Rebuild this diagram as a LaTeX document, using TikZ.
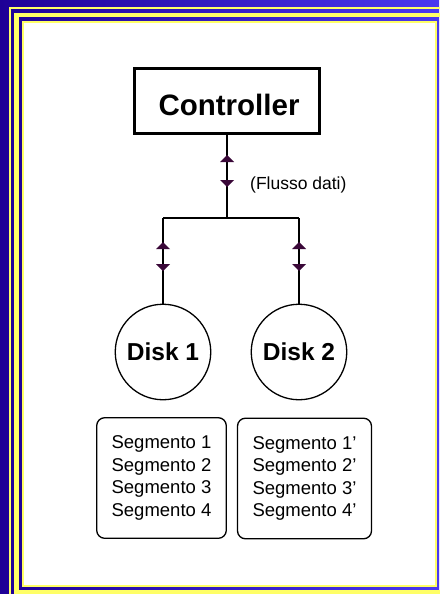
\documentclass[tikz,border=0pt]{standalone}
\usepackage{fontspec}
\setmainfont{Liberation Sans}
\usetikzlibrary{decorations.markings}
\definecolor{bgblue}{HTML}{1E0096}
\definecolor{bgmid}{HTML}{2010B8}
\definecolor{bgblue2}{HTML}{4A38F0}
\definecolor{frameyellow}{HTML}{FFFF66}
\definecolor{arrowpurple}{HTML}{3A0838}
\tikzset{
  ctrlbox/.style={draw, line width=2.7, minimum width=185.5, minimum height=65, inner sep=0, outer sep=0, text height=29, text depth=0, font=\fontsize{29.5}{31}\selectfont\bfseries},
  disk/.style={draw, circle, line width=1.3, minimum size=95.5, inner sep=0, outer sep=0, font=\fontsize{24.5}{26}\selectfont\bfseries},
  segbox/.style={draw, rounded corners=8, line width=1.3, minimum width=129.6, minimum height=120.6, align=left, inner sep=0, font=\fontsize{18.5}{22.5}\selectfont},
  link/.style={line width=1.5},
  bidir/.style 2 args={link, postaction={decorate}, decoration={markings,
      mark=at position #1 with {\fill[arrowpurple] (0,0) -- (7,7) -- (7,-7) -- cycle;},
      mark=at position #2 with {\fill[arrowpurple] (0,0) -- (-7,7) -- (-7,-7) -- cycle;}}},
  note/.style={font=\fontsize{17.5}{19}\selectfont, inner sep=0, anchor=west},
  yband/.style={draw=frameyellow}
}
\begin{document}
\begin{tikzpicture}[x=1pt,y=-1pt]
\useasboundingbox (0,0) rectangle (439,594);
% background and frame
\shade[left color=bgblue, middle color=bgmid, right color=bgblue2] (0,0) rectangle (439,594);
\draw[yband, line width=2] (10,8) rectangle (480,640);
\draw[yband, line width=4.5] (16.5,15) rectangle (445,592.5);
\draw[yband, line width=2] (23,22) rectangle (436,586);
\fill[white] (24,23) rectangle (435,585);
% nodes
\node[ctrlbox] (ctrl) at (227,101) {\hspace{4pt}Controller};
\node[disk] (d1) at (163,352) {Disk 1};
\node[disk] (d2) at (299,352) {Disk 2};
\node[segbox] (s1) at (161.5,478) {Segmento 1\\Segmento 2\\Segmento 3\\Segmento 4};
\node[segbox, minimum width=134] (s2) at (304.5,478.5) {Segmento 1'\\Segmento 2'\\Segmento 3'\\Segmento 4'};
\coordinate (j) at (227,218);
\coordinate (jl) at (d1.north |- j);
\coordinate (jr) at (d2.north |- j);
% connectors
\draw[bidir={21.5pt}{53.5pt}] (ctrl.south) -- (j);
\draw[link] (jl) -- (jr);
\draw[bidir={24pt}{53pt}] (jl) -- (d1.north);
\draw[bidir={24pt}{53pt}] (jr) -- (d2.north);
\node[note] (flow) at (250,185) {(Flusso dati)};
\end{tikzpicture}
\end{document}
